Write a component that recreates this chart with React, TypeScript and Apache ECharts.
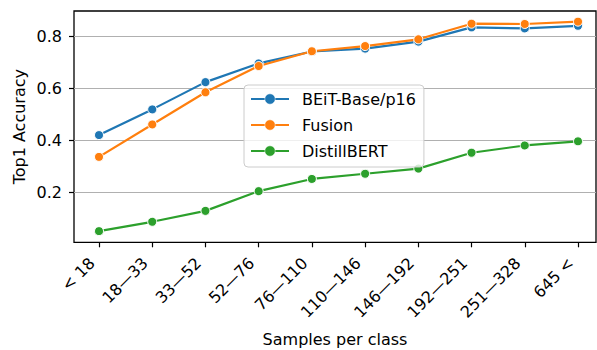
import React, { useEffect, useRef } from "react";
import * as echarts from "echarts";

const categories = ["< 18", "18—33", "33—52", "52—76", "76—110", "110—146", "146—192", "192—251", "251—328", "645 <"];
const beitValues = [0.421, 0.52, 0.625, 0.697, 0.743, 0.754, 0.781, 0.836, 0.832, 0.842];
const fusionValues = [0.337, 0.462, 0.586, 0.687, 0.744, 0.764, 0.79, 0.85, 0.849, 0.858];
const distilValues = [0.051, 0.087, 0.129, 0.205, 0.252, 0.272, 0.292, 0.353, 0.381, 0.397];
const seriesNames = ["BEiT-Base/p16", "Fusion", "DistillBERT"];
const colors = ["#1f77b4", "#ff7f0e", "#2ca02c"];
const yTickMin = 0.2;
const yTickMax = 0.8;
const yTickStep = 0.2;
const yDataMin = 0.008;
const yDataMax = 0.899;

const FONT = "DejaVu Sans";

export default function App() {
  const ref = useRef<HTMLDivElement>(null);
  useEffect(() => {
    document.body.style.margin = "0";
    const chart = echarts.init(ref.current!, null, { renderer: "svg" });
    const mk = (name: string, data: number[], color: string) => ({
      name,
      type: "line",
      xAxisIndex: 2,
      yAxisIndex: 2,
      data,
      symbol: "circle",
      symbolSize: 9,
      lineStyle: { color, width: 2.2 },
      itemStyle: { color, borderColor: "#fff", borderWidth: 1 },
    });
    chart.setOption({
      animation: false,
      textStyle: { fontFamily: FONT },
      grid: [
        { left: 74, top: 11, width: 522, height: 231.3, show: true, borderColor: "#000", borderWidth: 1.3, backgroundColor: "transparent", outerBoundsMode: "none" },
        { left: 74, top: 36.7, width: 522, height: 155.6, outerBoundsMode: "none" },
        { left: 99, top: 11, width: 479, height: 231.3, outerBoundsMode: "none" },
      ],
      xAxis: [
        {
          gridIndex: 0, type: "value", min: 0, max: 1, show: true,
          axisLine: { show: false }, axisTick: { show: false }, axisLabel: { show: false }, splitLine: { show: false },
          name: "Samples per class", nameLocation: "middle", nameGap: 89,
          nameTextStyle: { fontSize: 16, color: "#000", fontFamily: FONT },
        },
        { gridIndex: 1, type: "value", min: 0, max: 1, show: false },
        {
          gridIndex: 2, type: "category", data: categories, boundaryGap: false,
          axisLine: { show: false },
          axisTick: { show: true, length: 5, lineStyle: { color: "#000", width: 1.2 } },
          axisLabel: { rotate: 45, interval: 0, fontSize: 16, color: "#000", fontFamily: FONT, margin: 11, padding: [0, 10, 0, 0] },
          splitLine: { show: false },
        },
      ],
      yAxis: [
        {
          gridIndex: 0, type: "value", min: 0, max: 1, show: true,
          axisLine: { show: false }, axisTick: { show: false }, axisLabel: { show: false }, splitLine: { show: false },
          name: "Top1 Accuracy", nameLocation: "middle", nameGap: 47, nameRotate: 90,
          nameTextStyle: { fontSize: 16, color: "#000", fontFamily: FONT },
        },
        {
          gridIndex: 1, type: "value", min: yTickMin, max: yTickMax, interval: yTickStep,
          axisLine: { show: false },
          axisTick: { show: true, length: 5, lineStyle: { color: "#000", width: 1.2 } },
          axisLabel: { fontSize: 16, color: "#000", fontFamily: FONT, margin: 12, formatter: (v: number) => v.toFixed(1) },
          splitLine: { show: true, lineStyle: { color: "#b0b0b0", width: 1.2 } },
        },
        { gridIndex: 2, type: "value", min: yDataMin, max: yDataMax, show: false },
      ],
      legend: {
        orient: "vertical",
        left: 244,
        top: 85,
        data: seriesNames,
        backgroundColor: "rgba(255,255,255,0.8)",
        borderColor: "#cccccc",
        borderWidth: 1,
        borderRadius: 4,
        padding: [5, 8, 7, 6],
        itemWidth: 38,
        itemHeight: 13,
        itemGap: 8,
        itemStyle: { borderWidth: 0.5 },
        textStyle: { fontSize: 16, color: "#000", fontFamily: FONT, lineHeight: 18, padding: [0, 0, 0, 8] },
      },
      series: [
        mk(seriesNames[0], beitValues, colors[0]),
        mk(seriesNames[1], fusionValues, colors[1]),
        mk(seriesNames[2], distilValues, colors[2]),
      ],
    });
    return () => chart.dispose();
  }, []);
  return <div ref={ref} style={{ width: 597, height: 350 }} />;
}
